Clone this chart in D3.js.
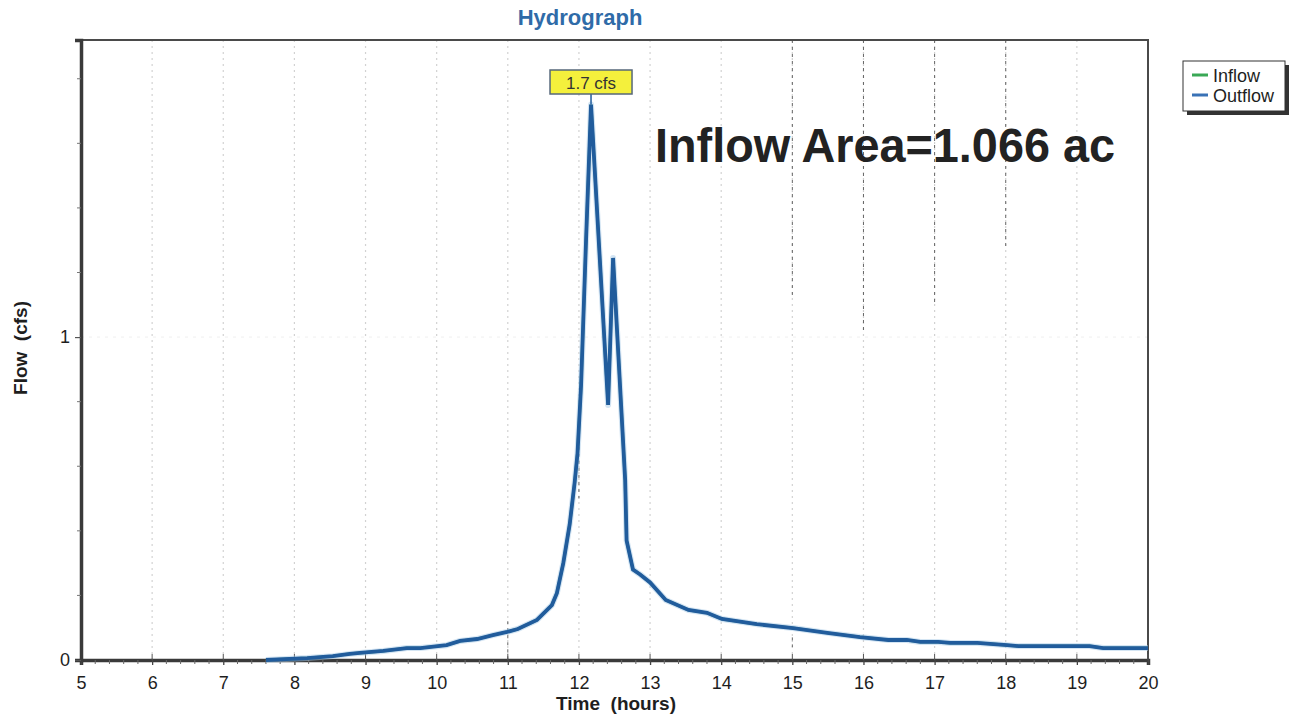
<!DOCTYPE html>
<html>
<head>
<meta charset="utf-8">
<script src="https://cdn.jsdelivr.net/npm/d3@7"></script>
<style>
  html, body { margin: 0; padding: 0; background: #fff; }
  svg { display: block; font-family: "Liberation Sans", Arial, sans-serif; }
  text { white-space: pre; }
</style>
</head>
<body>
<svg id="chart" width="1294" height="715"></svg>
<script>
// Hydrograph time series (hours, cfs)
const hours = [7.6, 8.18, 8.54, 8.78, 8.92, 9.25, 9.58, 9.77, 10.14, 10.33, 10.57, 10.79, 10.99, 11.14,
  11.41, 11.62, 11.69, 11.78, 11.87, 11.94, 11.98, 12.03, 12.1, 12.17, 12.41, 12.48, 12.65, 12.67,
  12.76, 12.86, 13.0, 13.22, 13.54, 13.8, 14.01, 14.5, 15.01, 15.49, 15.95, 16.35, 16.61, 16.8,
  17.05, 17.22, 17.6, 17.78, 18.02, 18.18, 18.62, 19.18, 19.37, 20.0];
const outflow = [0, 0.006, 0.012, 0.019, 0.022, 0.028, 0.037, 0.037, 0.046, 0.059, 0.065, 0.077, 0.087, 0.096,
  0.124, 0.17, 0.207, 0.30, 0.42, 0.55, 0.64, 0.85, 1.3, 1.72, 0.79, 1.245, 0.557, 0.37,
  0.28, 0.265, 0.24, 0.186, 0.155, 0.146, 0.127, 0.111, 0.099, 0.084, 0.071, 0.062, 0.062, 0.056,
  0.056, 0.053, 0.053, 0.05, 0.046, 0.043, 0.043, 0.043, 0.037, 0.037];
// Inflow is routed straight through, so it coincides with outflow
const inflow = outflow.slice();

const xTicks = d3.range(5, 21, 1);
const yTicks = [0, 1];
const seriesNames = ["Inflow", "Outflow"];
const seriesColors = ["#3aa856", "#3a72b6"];
const title = "Hydrograph";
const areaNote = "Inflow Area=1.066 ac";
// grid lines printed darker over part of their length: [hour, from cfs, to cfs]
const darkGrid = [[11, 0, 0.12], [12, 0.5, 0.66], [15, 1.12, 1.92], [16, 1.02, 1.92],
  [17, 1.1, 1.92], [18, 1.28, 1.92], [15, 0.04, 0.07]];

const svg = d3.select("#chart");
const plotL = 81, plotR = 1148, plotT = 40, plotB = 660;

const x = d3.scaleLinear().domain([5, 20]).range([plotL, plotR]);
const y = d3.scaleLinear().domain([0, 1.92]).range([plotB, plotT]);

// vertical grid
svg.append("g").selectAll("line")
  .data(xTicks.filter(d => d > 5 && d < 20))
  .join("line")
  .attr("x1", d => x(d)).attr("x2", d => x(d))
  .attr("y1", plotT).attr("y2", plotB)
  .attr("stroke", "#d2d2d2").attr("stroke-width", 1.2)
  .attr("stroke-dasharray", "2,4");
svg.append("g").selectAll("line")
  .data(darkGrid).join("line")
  .attr("x1", d => x(d[0])).attr("x2", d => x(d[0]))
  .attr("y1", d => y(d[2])).attr("y2", d => y(d[1]))
  .attr("stroke", "#666").attr("stroke-width", 1)
  .attr("stroke-dasharray", "3,4");

// faint horizontal grid at 1
svg.append("g").selectAll("line")
  .data([1]).join("line")
  .attr("x1", plotL).attr("x2", plotR)
  .attr("y1", d => y(d)).attr("y2", d => y(d))
  .attr("stroke", "#efefef").attr("stroke-width", 1)
  .attr("stroke-dasharray", "3,5");

// plot frame
svg.append("rect")
  .attr("x", plotL).attr("y", plotT)
  .attr("width", plotR - plotL).attr("height", plotB - plotT)
  .attr("fill", "none").attr("stroke", "#4a4a4a").attr("stroke-width", 2);

// x axis
const xAxis = d3.axisBottom(x).tickValues(xTicks).tickSize(5).tickPadding(11)
  .tickFormat(d3.format("d"));
const gx = svg.append("g").attr("transform", `translate(0,${plotB})`).call(xAxis);
gx.select(".domain").attr("stroke", "#3a3a3a").attr("stroke-width", 3.5);
gx.selectAll(".tick line").attr("stroke", "#444").attr("stroke-width", 1.3);
gx.selectAll(".tick text").attr("font-size", 18).attr("fill", "#1e1e1e")
  .attr("font-family", "Liberation Sans, Arial, sans-serif");
// minor x ticks
svg.append("g").selectAll("line")
  .data(d3.range(5, 20.001, 0.2).filter(d => Math.abs(d - Math.round(d)) > 0.01))
  .join("line")
  .attr("x1", d => x(d)).attr("x2", d => x(d))
  .attr("y1", plotB).attr("y2", plotB + 4)
  .attr("stroke", "#666").attr("stroke-width", 1);
// major x ticks inside plot
svg.append("g").selectAll("line")
  .data(xTicks).join("line")
  .attr("x1", d => x(d)).attr("x2", d => x(d))
  .attr("y1", plotB - 6).attr("y2", plotB)
  .attr("stroke", "#555").attr("stroke-width", 1);

// y axis
const yAxis = d3.axisLeft(y).tickValues(yTicks).tickSize(6).tickPadding(5)
  .tickFormat(d3.format("d"));
const gy = svg.append("g").attr("transform", `translate(${plotL},0)`).call(yAxis);
gy.select(".domain").attr("stroke", "#3a3a3a").attr("stroke-width", 3.5);
gy.selectAll(".tick line").attr("stroke", "#555").attr("stroke-width", 1.2);
gy.selectAll(".tick text").attr("font-size", 18).attr("fill", "#1e1e1e")
  .attr("font-family", "Liberation Sans, Arial, sans-serif");
svg.append("g").selectAll("line")
  .data(d3.range(0.2, 1.91, 0.2).filter(d => Math.abs(d - 1) > 0.01))
  .join("line")
  .attr("x1", plotL - 4).attr("x2", plotL)
  .attr("y1", d => y(d)).attr("y2", d => y(d))
  .attr("stroke", "#777").attr("stroke-width", 1);

// axis titles
svg.append("text").attr("x", 616).attr("y", 710)
  .attr("text-anchor", "middle").attr("font-size", 19).attr("font-weight", "bold")
  .attr("fill", "#1e1e1e").text("Time  (hours)");
svg.append("text").attr("transform", "translate(27,348) rotate(-90)")
  .attr("text-anchor", "middle").attr("font-size", 19).attr("font-weight", "bold")
  .attr("fill", "#1e1e1e").text("Flow  (cfs)");

// title
svg.append("text").attr("x", 580).attr("y", 25)
  .attr("text-anchor", "middle").attr("font-size", 22).attr("font-weight", "bold")
  .attr("fill", "#2f6ba8").text(title);

// series lines
const line = d3.line().x((d, i) => x(hours[i])).y(d => y(d));
svg.append("path").datum(inflow).attr("d", line)
  .attr("fill", "none").attr("stroke", seriesColors[0]).attr("stroke-width", 3);
svg.append("path").datum(outflow).attr("d", line)
  .attr("fill", "none").attr("stroke", "#a9cbe8").attr("stroke-width", 6)
  .attr("stroke-linejoin", "round").attr("opacity", 0.5);
svg.append("path").datum(outflow).attr("d", line)
  .attr("fill", "none").attr("stroke", "#215c9c").attr("stroke-width", 3.8)
  .attr("stroke-linejoin", "miter").attr("stroke-miterlimit", 10);

// peak label
const peakIdx = d3.maxIndex(outflow);
const px = x(hours[peakIdx]), py = y(outflow[peakIdx]);
const lbl = d3.format(".1f")(outflow[peakIdx]) + " cfs";
svg.append("line").attr("x1", px).attr("x2", px).attr("y1", 94).attr("y2", py)
  .attr("stroke", "#215c9c").attr("stroke-width", 1.5);
svg.append("rect").attr("x", px - 41).attr("y", 70).attr("width", 82).attr("height", 24)
  .attr("fill", "#f4f03c").attr("stroke", "#56677a").attr("stroke-width", 1.5);
svg.append("text").attr("x", px).attr("y", 89).attr("text-anchor", "middle")
  .attr("font-size", 17).attr("fill", "#333").text(lbl);

// area annotation
svg.append("text").attr("x", 655).attr("y", 162)
  .attr("font-size", 49).attr("font-weight", "bold").attr("fill", "#222")
  .attr("textLength", 460).attr("lengthAdjust", "spacingAndGlyphs")
  .text(areaNote);

// legend
const lg = svg.append("g").attr("transform", "translate(1183,61)");
lg.append("rect").attr("x", 4).attr("y", 4).attr("width", 102).attr("height", 50).attr("fill", "#333");
lg.append("rect").attr("x", 0).attr("y", 0).attr("width", 102).attr("height", 50)
  .attr("fill", "#fff").attr("stroke", "#333").attr("stroke-width", 1);
seriesNames.forEach((name, i) => {
  const yy = 14 + i * 20;
  lg.append("line").attr("x1", 9).attr("x2", 25).attr("y1", yy).attr("y2", yy)
    .attr("stroke", seriesColors[i]).attr("stroke-width", 3);
  lg.append("text").attr("x", 30).attr("y", yy + 7).attr("font-size", 18)
    .attr("fill", "#1e1e1e").text(name);
});
</script>
</body>
</html>
